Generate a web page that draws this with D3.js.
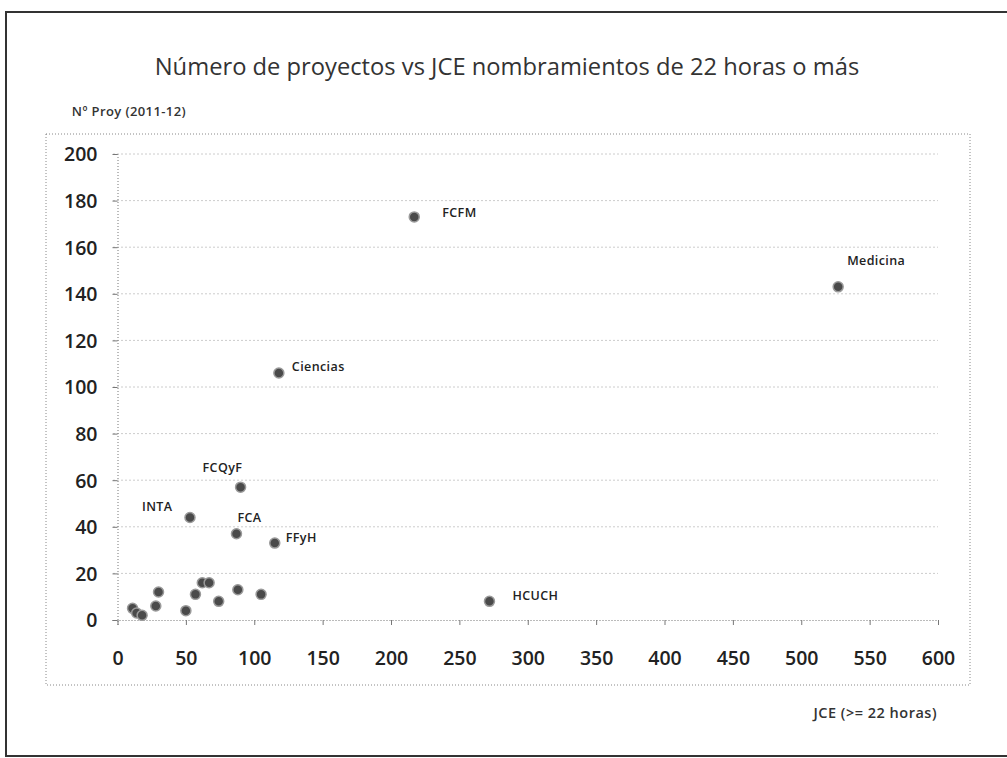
<!DOCTYPE html>
<html><head><meta charset="utf-8">
<script src="https://cdn.jsdelivr.net/npm/d3@7"></script>
<style>body{margin:0;background:#fff}svg{display:block}</style>
</head><body>
<svg id="chart" width="1007" height="758"></svg>
<script>
// ---- data ----
const titleText = "Número de proyectos vs JCE nombramientos de 22 horas o más";
const yAxisTitle = "Nº Proy (2011-12)";
const xAxisTitle = "JCE (>= 22 horas)";
const labelNames = ["FCFM","Medicina","Ciencias","FCQyF","INTA","FCA","FFyH","HCUCH"];
const labelJCE   = [217, 527, 118, 90, 53, 87, 115, 272];
const labelProy  = [173, 143, 106, 57, 44, 37, 33, 8];
const otherJCE   = [11, 14, 18, 28, 30, 50, 57, 62, 67, 74, 88, 105];
const otherProy  = [5, 3, 2, 6, 12, 4, 11, 16, 16, 8, 13, 11];
const xTicks = [0,50,100,150,200,250,300,350,400,450,500,550,600];
const yTicks = [0,20,40,60,80,100,120,140,160,180,200];
// label placement (layout, px)
const labelDX = [28, 9, 13, -38, -48, 1, 11, 23];
const labelDY = [0, -22, -2, -15, -6, -12, -1, -1];

const svg = d3.select("#chart");
const x = d3.scaleLinear().domain([0,600]).range([117.5,938]);
const y = d3.scaleLinear().domain([0,200]).range([620,154]);

// outer frame
svg.append("rect").attr("x",6).attr("y",12).attr("width",1010).attr("height",744)
  .attr("fill","none").attr("stroke","#333").attr("stroke-width",2);
// inner dotted frame
svg.append("rect").attr("x",46).attr("y",134).attr("width",924).attr("height",551)
  .attr("fill","none").attr("stroke","#888").attr("stroke-width",1).attr("stroke-dasharray","1,2");

// title
const t = svg.append("text").attr("x",507).attr("y",75).attr("text-anchor","middle")
  .attr("font-family","Open Sans").attr("font-size",20).attr("fill","#333").text(titleText);
const tw = t.node().getComputedTextLength();
t.attr("font-size", 20*705/tw);

svg.append("text").attr("x",186).attr("y",116).attr("text-anchor","end").attr("font-family","Open Sans")
  .attr("font-size",13).attr("font-weight",600).attr("letter-spacing",0.4).attr("fill","#333").text(yAxisTitle);
svg.append("text").attr("x",937).attr("y",718).attr("text-anchor","end").attr("font-family","Open Sans")
  .attr("font-size",14.5).attr("font-weight",600).attr("letter-spacing",0.5).attr("fill","#333").text(xAxisTitle);

// gridlines
const grid = svg.append("g").attr("stroke","#999").attr("stroke-dasharray","1,3").attr("stroke-width",1);
grid.selectAll("line").data(yTicks.filter(d=>d>0)).join("line")
  .attr("x1",x(0)-4).attr("x2",x(600)).attr("y1",d=>y(d)).attr("y2",d=>y(d));

// axes
const xAxis = svg.append("g").attr("transform",`translate(0,${y(0)})`)
  .call(d3.axisBottom(x).tickValues(xTicks).tickSize(5).tickPadding(26).tickFormat(d3.format("d")));
const yAxis = svg.append("g").attr("transform",`translate(${x(0)},0)`)
  .call(d3.axisLeft(y).tickValues(yTicks).tickSize(5).tickPadding(15).tickFormat(d3.format("d")));
[xAxis,yAxis].forEach(g=>{
  g.select(".domain").attr("stroke","#777").attr("stroke-dasharray","1,2");
  g.selectAll(".tick line").attr("stroke","#777");
  g.selectAll("text").attr("font-family","Open Sans").attr("font-size",19.5).attr("font-weight",600).attr("fill","#222");
});
yAxis.selectAll("text").attr("dy","0.35em");

// points
const pts = svg.append("g");
const allJCE = otherJCE.concat(labelJCE), allProy = otherProy.concat(labelProy);
pts.selectAll("circle").data(allJCE.map((d,i)=>[d,allProy[i]])).join("circle")
  .attr("cx",d=>x(d[0])).attr("cy",d=>y(d[1])).attr("r",5)
  .attr("fill","#4a4a4a").attr("stroke","#9a9a9a").attr("stroke-width",1.5);

// labels
svg.append("g").selectAll("text").data(labelNames).join("text")
  .attr("x",(d,i)=>x(labelJCE[i])+labelDX[i]).attr("y",(d,i)=>y(labelProy[i])+labelDY[i])
  .attr("font-family","Open Sans").attr("font-size",12.5).attr("font-weight",600)
  .attr("letter-spacing",0.4).attr("fill","#222")
  .text(d=>d);
</script>
</body></html>
